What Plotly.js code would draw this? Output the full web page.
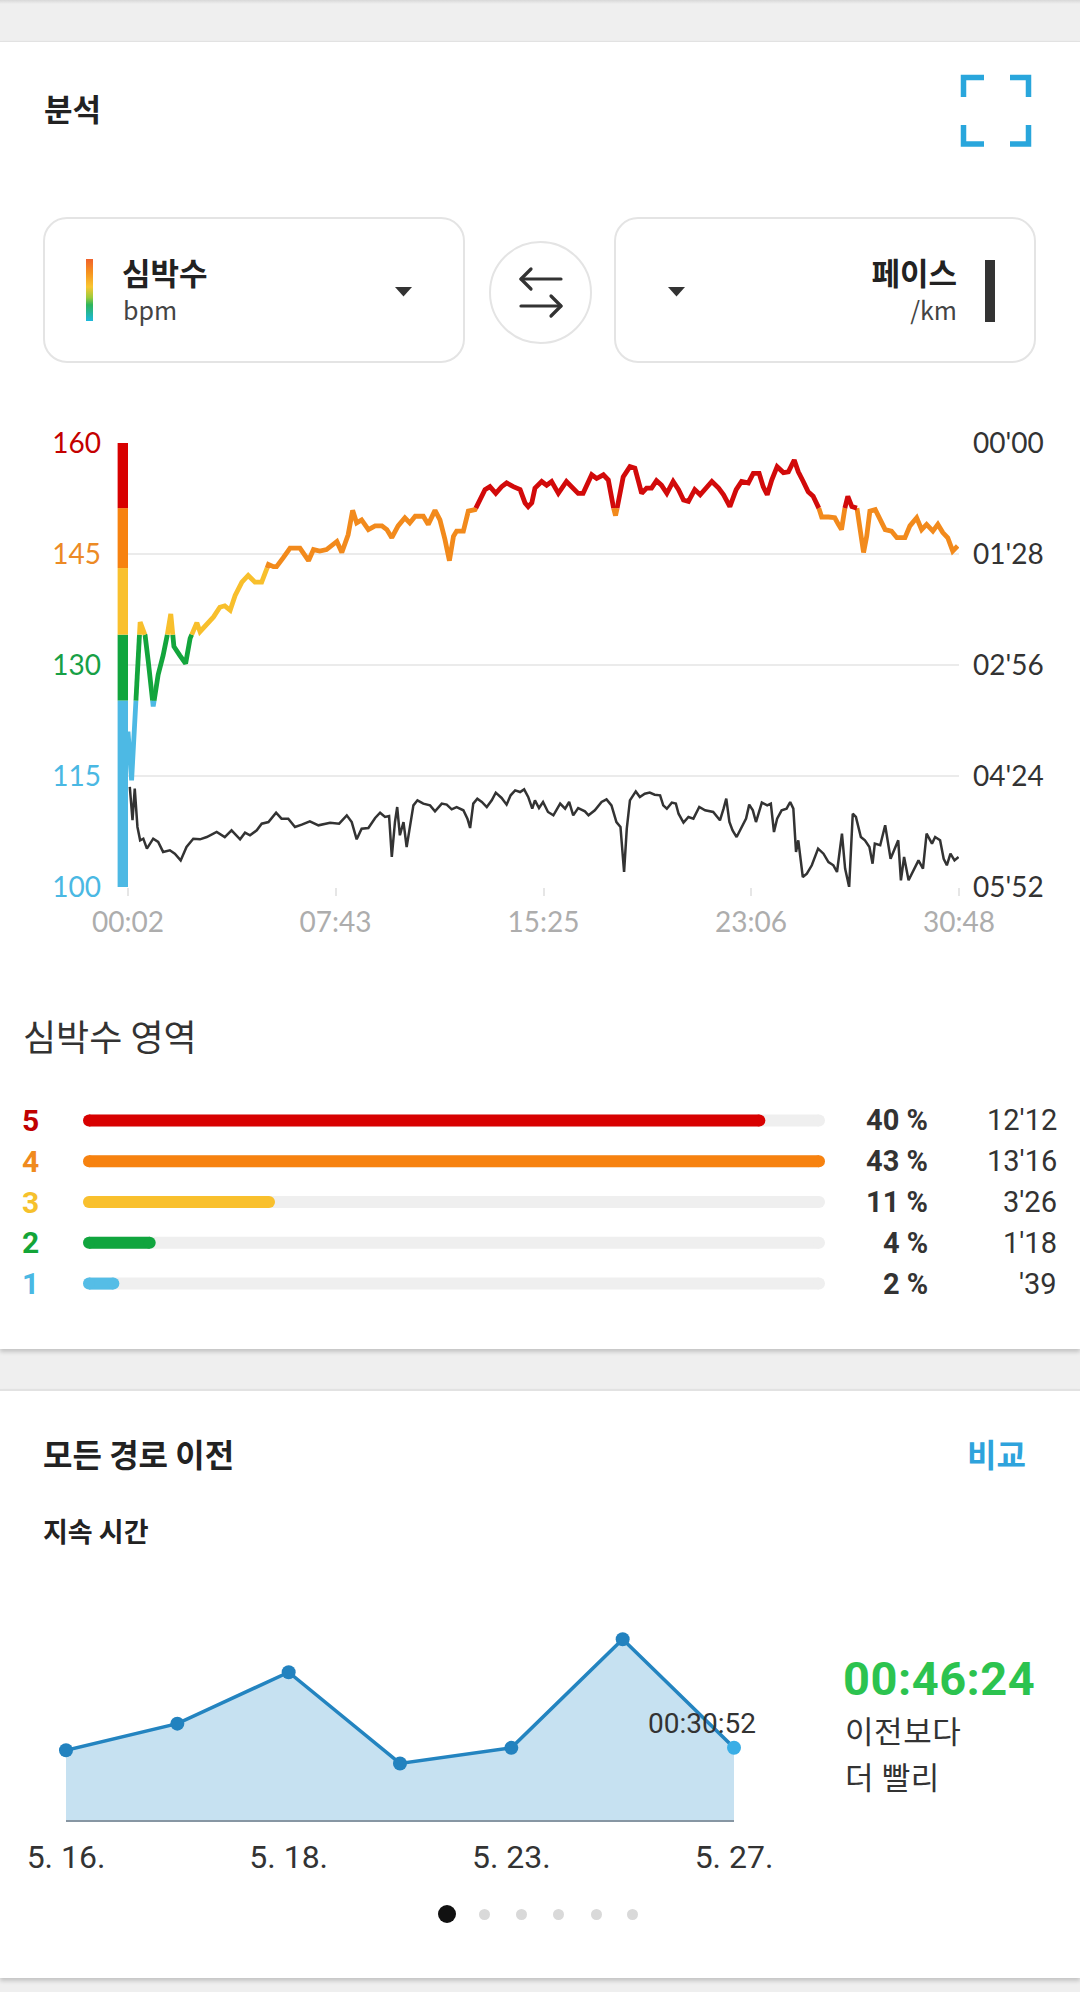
<!DOCTYPE html>
<html><head><meta charset="utf-8">
<script src="https://cdn.plot.ly/plotly-3.0.1.min.js"></script>
<style>
html,body{margin:0;padding:0;}
body{width:1080px;height:1992px;background:#efefef;position:relative;overflow:hidden;font-family:"Noto Sans CJK KR","Noto Sans",sans-serif;color:#333;}
.card{position:absolute;left:0;width:1080px;background:#fff;}
.t{position:absolute;white-space:nowrap;line-height:1;}
.box{position:absolute;border:2px solid #e4e4e4;border-radius:24px;box-sizing:border-box;background:#fff;}
.plot{position:absolute;left:0;}
.dot{position:absolute;border-radius:50%;}
</style></head>
<body>
<div style="position:absolute;left:0;top:0;width:1080px;height:4px;background:linear-gradient(#d8d8d8,#efefef);"></div>
<div class="card" style="top:41px;height:1307px;box-shadow:0 3px 4px rgba(0,0,0,0.18);border-top:1px solid #e2e2e2;"></div>
<div class="card" style="top:1389px;height:587px;box-shadow:0 3px 4px rgba(0,0,0,0.18);border-top:2px solid #e2e2e2;"></div>

<!-- card 1 header -->
<div class="t" style="left:44px;top:92px;font-size:31px;font-weight:700;color:#222;">분석</div>
<svg class="t" style="left:956px;top:70px;" width="80" height="82" viewBox="0 0 80 82">
  <g fill="none" stroke="#29a6dc" stroke-width="5.5">
    <path d="M7.5 27 V7.5 H28"/><path d="M54 7.5 H72.5 V27"/>
    <path d="M7.5 55 V74 H28"/><path d="M54 74 H72.5 V55"/>
  </g>
</svg>

<div class="box" style="left:43px;top:217px;width:422px;height:146px;"></div>
<div style="position:absolute;left:86px;top:259px;width:7px;height:62px;background:linear-gradient(to bottom,#f0622c 0%,#f6931f 22%,#f9c631 45%,#9ccb3b 62%,#2db55c 74%,#1cb8dc 100%);"></div>
<div class="t" style="left:122px;top:256px;font-size:31px;font-weight:700;color:#222;">심박수</div>
<div class="t" style="left:123px;top:297px;font-size:25px;color:#444;">bpm</div>
<svg class="t" style="left:395px;top:287px;" width="17" height="10"><path d="M0 0 H17 L8.5 9.5 Z" fill="#333"/></svg>

<div style="position:absolute;left:489px;top:241px;width:103px;height:103px;border:2px solid #e4e4e4;border-radius:50%;box-sizing:border-box;"></div>
<svg class="t" style="left:515px;top:262px;" width="52" height="60" viewBox="0 0 52 60">
  <g fill="none" stroke="#333" stroke-width="3.2" stroke-linecap="round" stroke-linejoin="round">
    <path d="M6 17 H46"/><path d="M16 7 L6 17 L16 27"/>
    <path d="M6 44 H46"/><path d="M36 34 L46 44 L36 54"/>
  </g>
</svg>

<div class="box" style="left:614px;top:217px;width:422px;height:146px;"></div>
<svg class="t" style="left:668px;top:287px;" width="17" height="10"><path d="M0 0 H17 L8.5 9.5 Z" fill="#333"/></svg>
<div class="t" style="right:123px;top:256px;font-size:31px;font-weight:700;color:#222;">페이스</div>
<div class="t" style="right:123px;top:297px;font-size:25px;color:#444;">/km</div>
<div style="position:absolute;left:985px;top:260px;width:10px;height:62px;background:#333;"></div>

<div id="hrChart" class="plot" style="top:400px;width:1080px;height:560px;"></div>

<div class="t" style="left:23px;top:1017px;font-size:36px;color:#333;">심박수 영역</div>
<div id="zoneChart" class="plot" style="top:1100px;width:1080px;height:204px;"></div>

<!-- card 2 -->
<div class="t" style="left:43px;top:1437px;font-size:32px;font-weight:700;color:#222;">모든 경로 이전</div>
<div class="t" style="right:54px;top:1437px;font-size:32px;font-weight:700;color:#2ea3dc;">비교</div>
<div class="t" style="left:43px;top:1517px;font-size:27px;font-weight:700;color:#222;">지속 시간</div>
<div id="areaChart" class="plot" style="top:1600px;width:1080px;height:280px;"></div>
<div id="diffText" class="t" style="left:843px;top:1655px;font-size:47px;font-weight:700;color:#2cc34f;font-family:Roboto,'Noto Sans',sans-serif;letter-spacing:0.5px;"></div>
<div class="t" style="left:845px;top:1714px;font-size:31px;letter-spacing:0.6px;color:#333;">이전보다</div>
<div class="t" style="left:845px;top:1760px;font-size:31px;letter-spacing:0.6px;color:#333;">더 빨리</div>
<div id="dots"></div>

<script>
// ---------- data: heart rate (bpm) over elapsed time (s) ----------
const hrTime = [2,10,29,40,47,58,69,80,88,97,104,117,130,140,155,162,177,192,206,217,229,240,255,269,284,299,314,325,332,347,362,384,403,414,428,443,466,477,491,501,510,521,536,551,566,577,588,602,617,628,640,658,669,684,695,706,716,725,732,747,758,773,784,795,806,819,832,843,858,873,884,891,899,906,921,932,943,958,976,988,1002,1013,1025,1032,1043,1058,1069,1076,1085,1095,1102,1117,1128,1136,1143,1154,1165,1176,1187,1199,1213,1225,1236,1247,1261,1273,1284,1299,1314,1325,1339,1353,1365,1380,1391,1404,1413,1422,1432,1444,1458,1469,1482,1491,1502,1513,1524,1535,1543,1558,1572,1580,1587,1595,1601,1610,1621,1628,1636,1643,1650,1662,1673,1684,1698,1710,1728,1739,1754,1765,1776,1790,1801,1812,1823,1834,1845];
const hrValue = [121,114.4,135.8,134,130.5,124.4,128.7,131.3,133.6,136.9,132.5,131.3,130.2,133.6,135.7,134.5,135.4,136.5,137.8,138,137.4,139.4,141.2,142.1,141.2,141.2,143.6,143.3,143.3,144.5,145.8,145.8,144.1,145.6,145.4,145.6,146.7,145.2,147.6,150.9,149.2,149.6,148.3,148.8,148.8,148.3,147.2,148.8,149.9,149.2,150.1,150.1,149,150.9,149.6,147,144.1,147.4,148.1,148.1,150.8,151,152.3,153.7,154.1,153.2,154.1,154.6,154.1,153.7,151.9,151.4,151.9,153.9,154.8,154.3,154.8,153.2,154.8,154.1,153.2,153.2,154.6,155.7,155.2,155.7,155,152.3,150.2,153,155.4,156.8,156.6,154.8,153.2,153.9,153.9,154.9,154.3,153.2,154.8,153.7,152.3,152.1,153.7,153,153.7,154.8,153.9,153,151.4,153.7,154.8,154.6,155.9,155.9,154.1,153,155,156.8,156,156.1,157.7,156.1,154.8,153.4,152.8,151.5,150,150,149.9,149,148.3,151.4,152.8,151.4,151.3,148.8,145.2,147.4,150.8,151,149.6,148.3,148.1,147.2,147.2,148.8,149.9,148.3,149,148.1,149,147.9,147.2,145.4,146.1];

// ---------- data: pace (seconds per km) over elapsed time (s) ----------
const paceTime = [6,12,17,23,29,36,44,58,69,80,95,106,119,132,147,162,177,199,217,232,251,262,273,288,299,314,331,343,358,373,388,406,425,451,471,488,499,510,521,536,551,562,573,582,588,595,600,606,614,621,627,636,645,658,673,684,699,710,721,732,747,756,762,769,778,788,799,810,819,832,843,852,862,873,882,891,900,906,915,924,935,947,962,973,982,991,1002,1017,1025,1039,1054,1065,1076,1087,1096,1104,1110,1117,1130,1139,1150,1161,1172,1184,1191,1199,1210,1219,1225,1236,1247,1258,1271,1284,1302,1317,1325,1331,1338,1345,1354,1365,1375,1382,1390,1397,1410,1422,1430,1437,1444,1454,1465,1473,1480,1486,1491,1501,1510,1521,1535,1547,1558,1569,1577,1588,1595,1604,1612,1619,1630,1639,1649,1656,1661,1673,1684,1696,1704,1713,1719,1726,1736,1747,1758,1768,1776,1788,1795,1806,1814,1821,1829,1838,1847];
const paceValue = [272.7,299.1,274,304.4,315,313.7,321.6,313.7,316.3,324.2,322.9,325.6,330.9,320.3,313.7,314.2,312.4,308.4,312.4,307.1,314.2,308.9,311,307.1,301.8,300.5,293.1,297.8,297.8,304.4,302.6,299.9,303.1,301,301.8,295.2,300.5,314.2,305.8,305.2,297.3,293.1,296.5,295.7,328.2,300.5,288.6,311,300.5,320.3,307.1,287.3,283.3,285.9,287.3,292,285.9,286.7,290.4,288.6,291.2,297.8,305.2,285.9,282,284.6,288.6,283.3,277.2,281.4,286.7,279.3,275.4,276.7,274.6,280.6,289.9,283.3,289.4,284.6,292.5,295.2,285.9,289.9,284.6,295.2,289.4,292,295.2,291.2,284.6,282.5,287.3,300.5,304.4,340.1,305.8,283.3,276.2,280.6,278,277.2,278.8,279.3,287.3,289.9,285.1,285.9,293.9,301,296.5,297.8,288.6,291.2,292.5,299.1,289.9,282,300.5,307.1,312.4,304.4,297.8,286.7,291.2,300.5,285.1,287.3,285.9,308.4,297.8,291.2,289.9,284.6,289.9,324.2,315,344.1,341.4,334.8,321.6,325.6,332.2,334.8,340.1,309.7,337.4,352,293.9,296.5,312.4,315,320.3,333.5,317.6,318.9,303.1,329.6,323,315,346.7,328.2,346.7,338.8,330.9,337.4,309.7,317.6,312.4,315,329.6,334.8,325.6,330.9,328.2];

// ---------- axes ----------
const timeTickVals = [2,463,925,1386,1848];
const timeTickText = ['00:02','07:43','15:25','23:06','30:48'];
const hrTickVals = [100,115,130,145,160];
const hrTickColors = ['#4ab8e3','#4ab8e3','#17a046','#ec8a25','#c40000'];
const paceTickVals = [0,88,176,264,352];
const paceTickText = ["00'00","01'28","02'56","04'24","05'52"];

// ---------- heart-rate zones ----------
const zoneBounds = [100,125.2,134.1,143.1,151.2,160];
const zoneLineColors = ['#4db9e4','#13a53c','#f8bf2c','#f28a1c','#d20a0a'];
const zoneBarColors = ['#4db9e4','#10a53e','#f9c02d','#f7820f','#d80000'];

// ---------- zone summary ----------
const zoneNames = ['5','4','3','2','1'];
const zonePct = [40,43,11,4,2];
const zoneTimeText = ["12'12","13'16","3'26","1'18","'39"];
const zoneSeconds = [732,796,206,78,39];
const zoneRowColors = ['#d80000','#f7820f','#f9c02d','#10a53e','#55bde6'];
const zoneLabelColors = ['#c00000','#f08a1e','#f6c12c','#13a538','#4ab8e3'];

// ---------- route comparison ----------
const routeDuration = [1790,2470,3790,1450,1850,4636,1852];
const routeTickIdx = [0,2,4,6];
const routeTickText = ['5. 16.','5. 18.','5. 23.','5. 27.'];

// ===== build heart-rate traces split by zone =====
function zoneOf(v){let z=0;for(let i=1;i<zoneBounds.length-1;i++){if(v>=zoneBounds[i])z=i;}return z;}
const segs = zoneLineColors.map(()=>({x:[],y:[],last:null}));
function addSeg(z,ax,ay,bx,by){
  const s=segs[z];
  if(!(s.last && s.last[0]===ax && s.last[1]===ay)){
    if(s.x.length){s.x.push(null);s.y.push(null);}
    s.x.push(ax);s.y.push(ay);
  }
  s.x.push(bx);s.y.push(by);s.last=[bx,by];
}
for(let i=0;i<hrTime.length-1;i++){
  const t0=hrTime[i],v0=hrValue[i],t1=hrTime[i+1],v1=hrValue[i+1];
  const pts=[[t0,v0]];
  const lo=Math.min(v0,v1),hi=Math.max(v0,v1);
  const cross=[];
  for(let k=1;k<zoneBounds.length-1;k++){const b=zoneBounds[k];if(b>lo&&b<hi){cross.push((b-v0)/(v1-v0));}}
  cross.sort((a,b)=>a-b).forEach(f=>pts.push([t0+f*(t1-t0),v0+f*(v1-v0)]));
  pts.push([t1,v1]);
  for(let j=0;j<pts.length-1;j++){
    const a=pts[j],b=pts[j+1];
    addSeg(zoneOf((a[1]+b[1])/2),a[0],a[1],b[0],b[1]);
  }
}
const hrTraces = segs.map((s,i)=>({type:'scatter',mode:'lines',x:s.x,y:s.y,xaxis:'x',yaxis:'y',
  line:{color:zoneLineColors[i],width:4.8},hoverinfo:'skip',showlegend:false}));
const paceTrace = {type:'scatter',mode:'lines',x:paceTime,y:paceValue,xaxis:'x',yaxis:'y2',
  line:{color:'#333333',width:2.5},hoverinfo:'skip',showlegend:false};

const zoneShapes = zoneLineColors.map((c,i)=>({type:'rect',xref:'paper',yref:'y',x0:-0.0125,x1:0,
  y0:zoneBounds[i],y1:zoneBounds[i+1],fillcolor:zoneBarColors[i],line:{width:0},layer:'above'}));

const numFont = 'Lato, "Noto Sans", sans-serif';
Plotly.newPlot('hrChart',[paceTrace].concat(hrTraces),{
  width:1080,height:560,margin:{l:128,r:121,t:43,b:73},
  paper_bgcolor:'rgba(0,0,0,0)',plot_bgcolor:'rgba(0,0,0,0)',showlegend:false,
  xaxis:{range:[timeTickVals[0],timeTickVals[timeTickVals.length-1]],tickmode:'array',tickvals:timeTickVals,ticktext:timeTickText,
    showgrid:false,zeroline:false,showline:false,ticks:'outside',ticklen:8,tickwidth:2,tickcolor:'#e6e6e6',
    tickfont:{family:numFont,size:28,color:'#adadad'},ticklabelstandoff:2},
  yaxis:{range:[zoneBounds[0],zoneBounds[zoneBounds.length-1]],tickmode:'array',tickvals:hrTickVals,
    ticktext:hrTickVals.map((v,i)=>'<span style="color:'+hrTickColors[i]+'">'+v+'</span>'),
    showgrid:true,gridcolor:'#ebebeb',gridwidth:2,zeroline:false,showline:false,ticks:'',
    tickfont:{family:numFont,size:28,color:'#333'},ticklabelstandoff:26},
  yaxis2:{overlaying:'y',side:'right',range:[paceTickVals[paceTickVals.length-1],paceTickVals[0]],tickmode:'array',
    tickvals:paceTickVals,ticktext:paceTickText,showgrid:false,zeroline:false,showline:false,ticks:'',
    tickfont:{family:numFont,size:28,color:'#333'},ticklabelstandoff:13},
  shapes:zoneShapes
},{staticPlot:true});

// ===== zone summary bars =====
const maxSec = Math.max(...zoneSeconds);
const plotW = 742, barW = 12;
const capSec = (barW/2)/plotW*maxSec;
const rowIdx = zoneNames.map((_,i)=>i);
const zoneTraces = [];
rowIdx.forEach(i=>{
  zoneTraces.push({type:'scatter',mode:'lines+markers',x:[capSec,maxSec-capSec],y:[i,i],cliponaxis:false,
    line:{color:'#efefef',width:barW},marker:{color:'#efefef',size:barW},hoverinfo:'skip'});
});
rowIdx.forEach(i=>{
  zoneTraces.push({type:'scatter',mode:'lines+markers',x:[capSec,Math.max(capSec,zoneSeconds[i]-capSec)],y:[i,i],cliponaxis:false,
    line:{color:zoneRowColors[i],width:barW},marker:{color:zoneRowColors[i],size:barW},hoverinfo:'skip'});
});
const zoneAnn = [];
rowIdx.forEach(i=>{
  zoneAnn.push({xref:'paper',yref:'y',x:(20-83)/plotW,y:i,xanchor:'left',yanchor:'middle',showarrow:false,
    text:'<b>'+zoneNames[i]+'</b>',font:{family:'Roboto, sans-serif',size:30,color:zoneLabelColors[i]}});
  zoneAnn.push({xref:'paper',yref:'y',x:(930-83)/plotW,y:i,xanchor:'right',yanchor:'middle',showarrow:false,
    text:'<b>'+zonePct[i]+' %</b>',font:{family:'Roboto, sans-serif',size:29,color:'#333'}});
  zoneAnn.push({xref:'paper',yref:'y',x:(1059-83)/plotW,y:i,xanchor:'right',yanchor:'middle',showarrow:false,
    text:zoneTimeText[i],font:{family:'Roboto, sans-serif',size:29,color:'#333'}});
});
Plotly.newPlot('zoneChart',zoneTraces,{
  width:1080,height:204,margin:{l:83,r:1080-83-plotW,t:0,b:0},
  paper_bgcolor:'rgba(0,0,0,0)',plot_bgcolor:'rgba(0,0,0,0)',showlegend:false,
  xaxis:{range:[0,maxSec],visible:false},
  yaxis:{range:[zoneNames.length-0.5,-0.5],visible:false},
  annotations:zoneAnn
},{staticPlot:true});

// ===== route comparison area =====
function fmt(s){const h=Math.floor(s/3600),m=Math.floor(s%3600/60),x=s%60;return [h,m,x].map(v=>String(v).padStart(2,'0')).join(':');}
const routeX = routeDuration.map((_,i)=>i);
const lastIdx = routeDuration.length-1;
const mColors = routeDuration.map((_,i)=>i===lastIdx?'#3aaee6':'#2282bf');
Plotly.newPlot('areaChart',[{type:'scatter',mode:'lines+markers',x:routeX,y:routeDuration,fill:'tozeroy',
  fillcolor:'#c6e1f1',line:{color:'#2384c0',width:3.5},marker:{color:mColors,size:14},cliponaxis:false,hoverinfo:'skip'}],{
  width:1080,height:280,margin:{l:66,r:346,t:25,b:60},
  paper_bgcolor:'rgba(0,0,0,0)',plot_bgcolor:'rgba(0,0,0,0)',showlegend:false,
  xaxis:{range:[0,lastIdx],tickmode:'array',tickvals:routeTickIdx,ticktext:routeTickText,showgrid:false,zeroline:false,
    showline:true,linecolor:'#8796a3',linewidth:2,ticks:'',tickfont:{family:'Roboto, sans-serif',size:32,color:'#333'},ticklabelstandoff:8},
  yaxis:{range:[0,5000],visible:false},
  annotations:[{x:lastIdx,y:routeDuration[lastIdx],xref:'x',yref:'y',text:fmt(routeDuration[lastIdx]),showarrow:false,
    xshift:-32,yshift:24,font:{family:'Roboto, sans-serif',size:28,color:'#333'}}]
},{staticPlot:true});

document.getElementById('diffText').textContent = fmt(routeDuration[lastIdx-1]-routeDuration[lastIdx]);

// pagination dots
const dotX=[447,484,521,558,596,632];
const dotsEl=document.getElementById('dots');
dotX.forEach((x,i)=>{const d=document.createElement('div');d.className='dot';const r=i===0?9:5.5;
  d.style.left=(x-r)+'px';d.style.top=(1914-r)+'px';d.style.width=d.style.height=(2*r)+'px';
  d.style.background=i===0?'#111':'#d9d9d9';dotsEl.appendChild(d);});
</script>
</body></html>
